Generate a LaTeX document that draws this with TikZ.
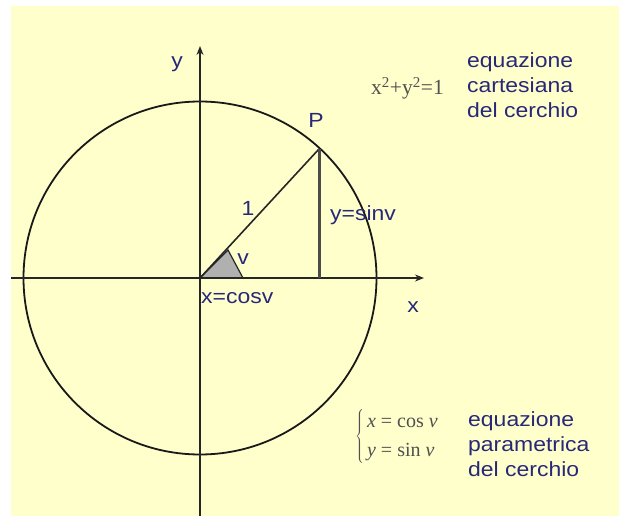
\documentclass[tikz,border=0pt]{standalone}
\usepackage{fontspec}
\setmainfont{Liberation Sans}[FakeStretch=1.12]
\newfontfamily\serifeq{Liberation Serif}
\usetikzlibrary{arrows.meta}
\definecolor{bgyellow}{RGB}{255,255,204}
\definecolor{navy}{RGB}{40,40,120}
\definecolor{mathgrey}{RGB}{80,80,80}
\definecolor{wedgegrey}{RGB}{176,176,176}
\tikzset{
  lbl/.style={text=navy, font=\fontsize{20.5}{25}\selectfont, inner sep=0pt},
  mathlbl/.style={text=mathgrey, inner sep=0pt},
  axis/.style={line width=1.3pt, draw=black!85, -{Stealth[length=9pt,width=7pt]}},
  thinaxis/.style={line width=1.3pt, draw=black!85},
}
\begin{document}
\begin{tikzpicture}[x=1pt,y=-1pt]
\useasboundingbox (0,0) rectangle (619,516);
\fill[bgyellow] (11,6) rectangle (619,516);
\coordinate (O) at (200,278);
\coordinate (xl) at (11,278);
\coordinate (xr) at (424,278);
\coordinate (yt) at (200,46);
\coordinate (yb) at (200,516);
% circle
\draw[line width=1.8pt, black!90] (O) circle[radius=176.5];
% wedge
\coordinate (w1) at (243,278);
\coordinate (w2) at (228,250);
\filldraw[fill=wedgegrey, draw=black!85, line width=1.2pt] (O) -- (w1) -- (w2) -- cycle;
% axes
\draw[thinaxis] (xl) -- (O);
\draw[axis] (O) -- (xr);
\draw[thinaxis] (yb) -- (O);
\draw[axis] (O) -- (yt);
% P and segments
\coordinate (P) at (319,149);
\coordinate (Px) at (319,278);
\draw[line width=1.6pt, black!85] (O) -- (P);
\draw[line width=3pt, black!70] (P) -- (Px);
% labels
\node[lbl, anchor=base] (ylab) at (177,68) {y};
\node[lbl, anchor=base] (xlab) at (413,312) {x};
\node[lbl, anchor=base] (Plab) at (316,128) {P};
\node[lbl, anchor=base] (one) at (248,215) {1};
\node[lbl, anchor=base west] (sinlab) at (330,220) {y=sinv};
\node[lbl, anchor=base] (vlab) at (243,265) {v};
\node[lbl, anchor=base west] (coslab) at (201,303) {x=cosv};
% cartesian equation
\node[mathlbl, anchor=base west, font=\serifeq\fontsize{21.5}{24}\selectfont] (cart) at (371,95) {x\textsuperscript{2}+y\textsuperscript{2}=1};
\node[lbl, anchor=base west] (c1) at (467,68) {equazione};
\node[lbl, anchor=base west] (c2) at (467,93) {cartesiana};
\node[lbl, anchor=base west] (c3) at (467,118) {del cerchio};
% parametric equation
\node[mathlbl, anchor=west, font=\serifeq\fontsize{20}{29}\selectfont] (param) at (355,436)
  {$\left\{\begin{tabular}{@{\hspace{3pt}}l@{}}\textit{x} = cos \textit{ν}\\ \textit{y} = sin \textit{ν}\end{tabular}\right.$};
\node[lbl, anchor=base west] (p1) at (468,426) {equazione};
\node[lbl, anchor=base west] (p2) at (468,451) {parametrica};
\node[lbl, anchor=base west] (p3) at (468,476) {del cerchio};
\end{tikzpicture}
\end{document}
